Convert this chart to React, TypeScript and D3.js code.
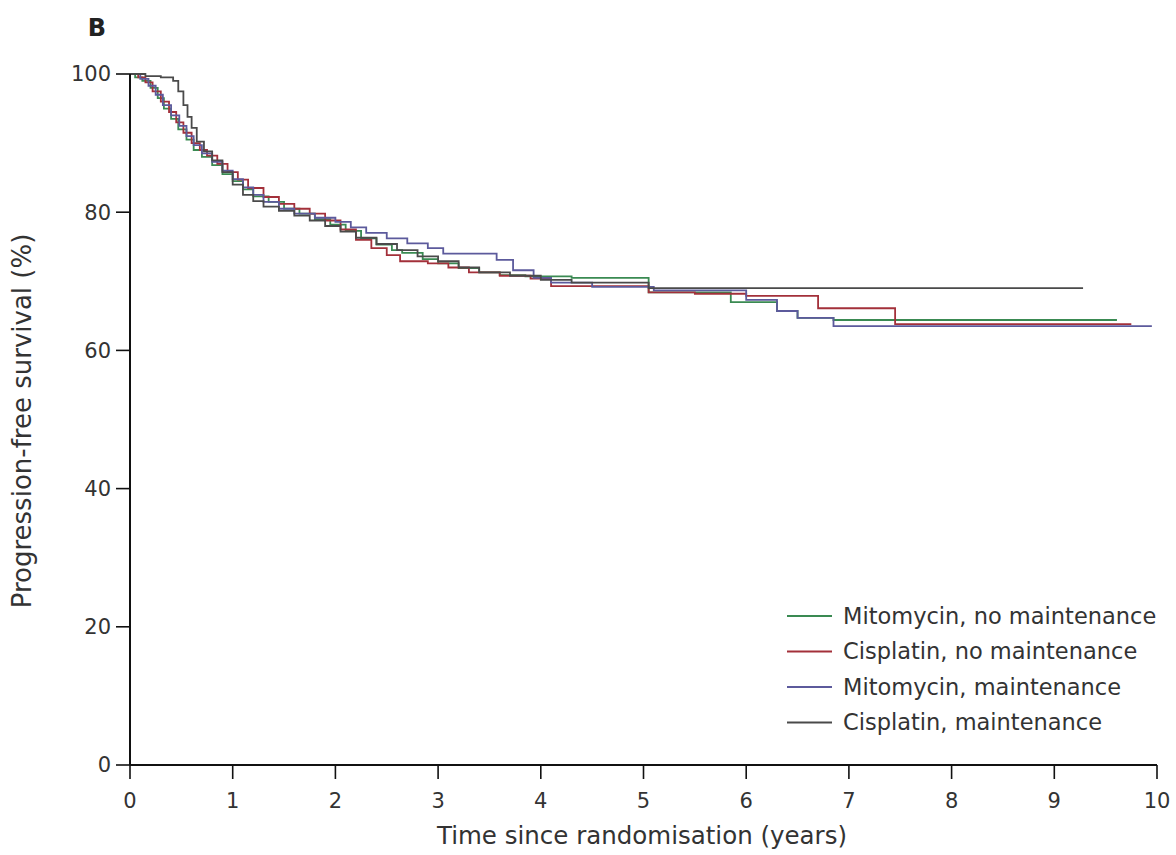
import React from "react";
import * as d3 from "d3";

const xTicks = [0, 1, 2, 3, 4, 5, 6, 7, 8, 9, 10];
const yTicks = [0, 20, 40, 60, 80, 100];

const seriesNames = [
  "Mitomycin, no maintenance",
  "Cisplatin, no maintenance",
  "Mitomycin, maintenance",
  "Cisplatin, maintenance",
];
const seriesColors = ["#3a8a52", "#a3303a", "#5c5a9c", "#4a4a4a"];

// [time (years), survival (%)] after each step
const mitoNoMaint: [number, number][] = [
  [0, 100], [0.05, 99.5], [0.12, 99], [0.2, 98], [0.27, 96.5], [0.33, 95], [0.4, 93.5],
  [0.47, 92], [0.55, 90.5], [0.62, 89], [0.7, 88], [0.8, 86.8], [0.9, 85.5], [1.0, 84.5],
  [1.1, 83.3], [1.2, 82.3], [1.35, 81.5], [1.5, 80.5], [1.65, 79.8], [1.8, 79], [1.95, 78.2],
  [2.1, 77.3], [2.25, 76.2], [2.4, 75.3], [2.55, 74.5], [2.65, 74.1], [2.85, 73.2], [3.0, 72.6],
  [3.2, 71.9], [3.4, 71.3], [3.6, 70.9], [3.85, 70.7], [4.3, 70.5], [5.05, 68.4], [5.85, 67.0],
  [6.3, 65.7], [6.5, 64.7], [6.85, 64.4], [9.61, 64.4],
];
const cisNoMaint: [number, number][] = [
  [0, 100], [0.08, 99.5], [0.15, 98.8], [0.22, 97.5], [0.3, 96], [0.38, 94.5], [0.45, 93],
  [0.52, 91.5], [0.6, 90], [0.68, 89], [0.75, 88.2], [0.85, 87], [0.95, 85.8], [1.05, 84.7],
  [1.15, 83.5], [1.3, 82.2], [1.45, 81.2], [1.6, 80.5], [1.75, 79.8], [1.9, 78.8], [2.05, 77.5],
  [2.2, 76], [2.35, 74.8], [2.5, 73.8], [2.63, 72.9], [2.9, 72.6], [3.1, 72.0], [3.3, 71.3],
  [3.6, 70.8], [3.9, 70.4], [4.1, 69.3], [5.05, 68.4], [5.5, 68.2], [6.0, 67.9], [6.7, 66.1],
  [7.45, 63.8], [9.75, 63.8],
];
const mitoMaint: [number, number][] = [
  [0, 100], [0.1, 99.3], [0.18, 98.3], [0.25, 97], [0.32, 95.5], [0.4, 94], [0.48, 92.5],
  [0.55, 91], [0.62, 89.7], [0.7, 88.5], [0.8, 87.3], [0.9, 86], [1.0, 84.8], [1.1, 83.6],
  [1.2, 82.5], [1.3, 81.5], [1.45, 80.5], [1.6, 79.8], [1.8, 79.2], [2.0, 78.6], [2.15, 77.8],
  [2.3, 77.0], [2.5, 76.2], [2.7, 75.5], [2.9, 74.8], [3.05, 74.0], [3.57, 73.1], [3.73, 71.6],
  [3.93, 70.5], [4.1, 69.8], [4.5, 69.2], [5.1, 68.7], [6.0, 67.3], [6.3, 65.7], [6.5, 64.7],
  [6.85, 63.5], [9.95, 63.5],
];
const cisMaint: [number, number][] = [
  [0, 100], [0.15, 99.7], [0.3, 99.5], [0.42, 99.0], [0.47, 97.5], [0.52, 95.5], [0.56, 93.8],
  [0.6, 92.2], [0.65, 90.2], [0.72, 88.8], [0.8, 87.5], [0.9, 85.8], [1.0, 84.0], [1.1, 82.5],
  [1.2, 81.6], [1.3, 80.8], [1.45, 80.2], [1.6, 79.5], [1.75, 78.8], [1.9, 78.0], [2.05, 77.2],
  [2.2, 76.3], [2.4, 75.4], [2.6, 74.5], [2.8, 73.6], [3.0, 72.9], [3.2, 72.0], [3.4, 71.3],
  [3.7, 70.8], [4.0, 70.2], [4.3, 69.8], [5.05, 69.0], [9.28, 69.0],
];
const seriesData = [mitoNoMaint, cisNoMaint, mitoMaint, cisMaint];

const W = 1176;
const H = 855;
const FONT = "'DejaVu Sans', 'Open Sans', sans-serif";

export default function App() {
  const x = d3.scaleLinear().domain([0, 10]).range([130, 1157]);
  const y = d3.scaleLinear().domain([0, 100]).range([765, 74]);
  const line = d3
    .line<[number, number]>()
    .x((d) => x(d[0]))
    .y((d) => y(d[1]))
    .curve(d3.curveStepAfter);

  const legendX = 787;
  const legendY0 = 616;
  const legendStep = 35.5;

  return (
    <svg
      width={W}
      height={H}
      style={{ position: "absolute", left: 0, top: 0, background: "#fff" }}
      fontFamily={FONT}
    >
      <rect x={0} y={0} width={W} height={H} fill="#fff" />
      <text x={97} y={36} fontSize={24} fontWeight="bold" fill="#222" textAnchor="middle">
        B
      </text>

      {seriesData.map((d, i) => (
        <path key={i} d={line(d) || ""} fill="none" stroke={seriesColors[i]} strokeWidth={1.8} />
      ))}

      {/* axes */}
      <line x1={x(0)} x2={x(0)} y1={y(100)} y2={y(0)} stroke="#111" strokeWidth={2} />
      <line x1={x(0)} x2={x(10)} y1={y(0)} y2={y(0)} stroke="#111" strokeWidth={2} />
      {yTicks.map((t) => (
        <g key={"y" + t}>
          <line x1={x(0) - 14} x2={x(0)} y1={y(t)} y2={y(t)} stroke="#111" strokeWidth={1.6} />
          <text x={x(0) - 19} y={y(t)} dy="0.35em" fontSize={21} textAnchor="end" fill="#333">
            {t}
          </text>
        </g>
      ))}
      {xTicks.map((t) => (
        <g key={"x" + t}>
          <line x1={x(t)} x2={x(t)} y1={y(0)} y2={y(0) + 14} stroke="#111" strokeWidth={1.6} />
          <text x={x(t)} y={801} dy="0.35em" fontSize={21} textAnchor="middle" fill="#333">
            {t}
          </text>
        </g>
      ))}
      <text x={642} y={835} dy="0.35em" fontSize={24.5} textAnchor="middle" fill="#333">
        Time since randomisation (years)
      </text>
      <text
        transform={`translate(22,421) rotate(-90)`}
        dy="0.35em"
        fontSize={26}
        textAnchor="middle"
        fill="#333"
      >
        Progression-free survival (%)
      </text>

      {seriesNames.map((n, i) => (
        <g key={n}>
          <line
            x1={legendX}
            x2={legendX + 45}
            y1={legendY0 + i * legendStep}
            y2={legendY0 + i * legendStep}
            stroke={seriesColors[i]}
            strokeWidth={1.8}
          />
          <text x={843} y={legendY0 + i * legendStep} dy="0.35em" fontSize={22.5} fill="#333">
            {n}
          </text>
        </g>
      ))}
    </svg>
  );
}
